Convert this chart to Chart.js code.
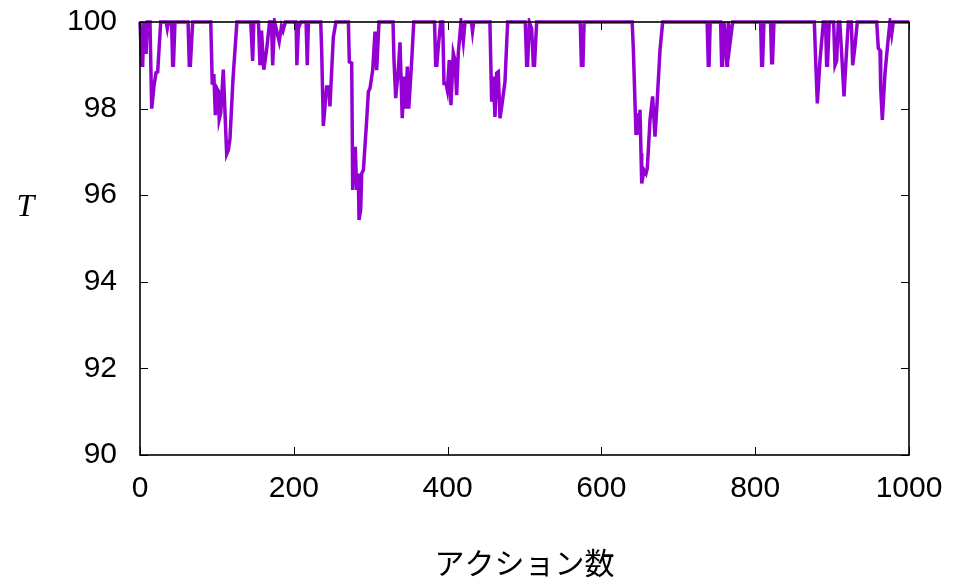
<!DOCTYPE html>
<html>
<head>
<meta charset="utf-8">
<script src="https://cdn.jsdelivr.net/npm/chart.js@4"></script>
<style>
  html, body { margin: 0; padding: 0; background: #fff; }
  #chart { display: block; }
</style>
</head>
<body>
<canvas id="chart" width="956" height="579"></canvas>
<script>
// ======================================
// Data
// ======================================

const xTicks = [0, 200, 400, 600, 800, 1000];
const yTicks = [90, 92, 94, 96, 98, 100];

const actionCounts = [
  0, 2.2, 3.5, 5, 6.5, 8, 9.5, 13, 15.2, 18.2, 20.8, 23, 26.9,
  34, 35.5, 37, 41, 42.5, 43.5, 45.5, 62.5, 64.1, 65.5, 68.5,
  92, 94, 96, 98, 100.5, 102, 103, 105, 108.3, 112.7, 115, 117, 121, 126,
  144, 146.5, 148, 154, 156, 158, 161, 164.6, 168.5, 171, 172.5, 175, 181, 184, 186, 189,
  203, 204, 206, 209, 216, 217.5, 219,
  235, 236.3, 238.4, 240.6, 242.7, 245.7, 247, 251.4, 254.8,
  271, 272.2, 275.3, 276.6, 278.5, 280, 281.8, 283.9, 284.8, 287, 288.3, 290.5,
  294.8, 297, 299.1, 302.6, 305.6, 307.8, 310.8,
  329, 330.3, 332.5, 335.9, 338.1, 341, 343.6, 345.9, 347.6, 349.5, 353.3, 356,
  383, 384.5, 386, 387.9, 391, 393.6, 395.3, 397.9, 399.6, 402.2, 404.4, 407.4,
  409.6, 411.8, 413.9, 417.4, 420.4, 422.6, 431, 432.4, 434,
  455, 457.3, 459.4, 461.6, 463.8, 465.9, 468.1, 470.3, 474.6, 478.1,
  501, 502.8, 504, 506.3, 509.3, 511.5, 513, 515.8,
  572.5, 574, 576, 577.5,
  640, 641.5, 645, 647.2, 648.5, 650.2, 651.5, 652.4, 655.4, 658, 659.7,
  663.2, 666.6, 669.7, 671.9, 676.2, 679.7,
  737.5, 739, 740, 741.5,
  755, 756.4, 757.5, 759.4, 761.6, 763.2, 764, 765, 767.2, 770.7,
  807, 808.4, 809.5, 811.4, 820, 821.4, 822.5, 824.4,
  876.9, 878.6, 880.8, 884.3, 888.6, 891.5, 892.9, 894, 896.3, 902, 903.8, 905.9, 908.1,
  910, 912.4, 915.5, 918.1, 921.1, 925, 926.8, 929.8, 932.8,
  958, 960.1, 962.3, 963.2, 965.3, 968.8, 973.2, 975.3, 977.5, 979.6, 1000,
];

const tValues = [
  100, 99.0, 99.0, 100, 99.3, 99.3, 100, 100, 98.0, 98.52, 98.83, 98.85, 100,
  100, 99.85, 100, 100, 99.0, 99.0, 100, 100, 99.0, 99.0, 100,
  100, 98.55, 98.8, 97.85, 98.45, 98.4, 97.75, 97.9, 98.9, 96.95, 97.05, 97.3, 98.7, 100,
  100, 99.1, 100, 100, 99.0, 99.8, 98.9, 99.35, 100, 100, 99.0, 100, 99.55, 99.9, 99.8, 100,
  100, 99.0, 99.85, 100, 100, 99.0, 100,
  100, 99.3, 97.6, 98.05, 98.5, 98.5, 98.05, 99.65, 100,
  100, 99.08, 99.05, 96.12, 97.08, 97.08, 96.12, 96.5, 95.43, 95.66, 96.5, 96.58,
  97.74, 98.39, 98.47, 98.89, 99.78, 98.89, 100,
  100, 99.12, 98.24, 98.89, 99.53, 97.78, 98.74, 98.0, 98.97, 98.0, 99.1, 100,
  100, 99.0, 99.0, 99.43, 100, 100, 98.58, 98.58, 98.43, 99.12, 98.08, 99.28,
  99.12, 98.31, 99.28, 100, 99.55, 100, 100, 99.78, 100,
  100, 98.16, 98.74, 97.81, 98.82, 98.85, 97.78, 98.04, 98.62, 100,
  100, 99.0, 99.0, 100, 99.85, 99.0, 99.0, 100,
  100, 99.0, 99.0, 100,
  100, 99.39, 97.39, 97.89, 97.4, 97.97, 96.97, 96.27, 96.58, 96.5, 96.62,
  97.74, 98.28, 97.35, 97.97, 99.35, 100,
  100, 99.0, 99.0, 100,
  100, 99.0, 99.0, 100, 99.5, 99.0, 99.0, 100, 99.5, 100,
  100, 99.0, 99.0, 100, 100, 99.06, 99.06, 100,
  100, 99.12, 98.12, 99.12, 100, 100, 99.0, 99.0, 100, 100, 99.0, 99.1, 100,
  100, 99.28, 98.28, 99.12, 100, 100, 99.0, 99.45, 100,
  100, 99.39, 99.35, 98.47, 97.74, 98.82, 99.66, 100, 99.72, 100, 100,
];

// ======================================
// Frame, inward ticks and the T label
// ======================================

const frameTicksPlugin = {
  id: "frameTicks",
  afterDatasetsDraw(chart) {
    const { ctx, chartArea } = chart;
    const { left, right, top, bottom } = chartArea;
    const xScale = chart.scales.x;
    const yScale = chart.scales.y;
    const len = 8;

    ctx.save();
    ctx.strokeStyle = "#000";
    ctx.lineWidth = 1;
    ctx.beginPath();
    xTicks.forEach((v) => {
      const px = Math.round(xScale.getPixelForValue(v)) + 0.5;
      ctx.moveTo(px, bottom);
      ctx.lineTo(px, bottom - len);
      ctx.moveTo(px, top);
      ctx.lineTo(px, top + len);
    });
    yTicks.forEach((v) => {
      const py = Math.round(yScale.getPixelForValue(v)) + 0.5;
      ctx.moveTo(left, py);
      ctx.lineTo(left + len, py);
      ctx.moveTo(right, py);
      ctx.lineTo(right - len, py);
    });
    ctx.stroke();

    ctx.lineWidth = 1.6;
    ctx.strokeRect(left, top, right - left, bottom - top);
    ctx.restore();
  },
  afterDraw(chart) {
    const { ctx } = chart;
    ctx.save();
    ctx.fillStyle = "#000";
    ctx.font = "italic 32px 'Liberation Serif', serif";
    ctx.textAlign = "center";
    ctx.textBaseline = "alphabetic";
    ctx.fillText("T", 25.5, 216);
    ctx.restore();
  },
};

// ======================================
// Chart
// ======================================

const tickFont = { family: "'Liberation Sans', Arial, sans-serif", size: 30 };

new Chart(document.getElementById("chart"), {
  type: "line",
  data: {
    datasets: [
      {
        data: actionCounts.map((x, i) => ({ x, y: tValues[i] })),
        borderColor: "#9400d3",
        borderWidth: 3.5,
        pointRadius: 0,
        tension: 0,
        clip: 4,
      },
    ],
  },
  options: {
    responsive: false,
    animation: false,
    devicePixelRatio: 1,
    layout: { padding: { top: 22, right: 47, left: 0, bottom: 0 } },
    plugins: { legend: { display: false }, tooltip: { enabled: false } },
    scales: {
      x: {
        type: "linear",
        min: 0,
        max: 1000,
        afterBuildTicks(scale) {
          scale.ticks = xTicks.map((value) => ({ value }));
        },
        afterFit(scale) {
          scale.height = 124;
          scale.paddingLeft = 0;
          scale.paddingRight = 0;
        },
        grid: { display: false, drawTicks: false },
        border: { display: false },
        ticks: {
          color: "#000",
          font: tickFont,
          padding: 16,
          maxRotation: 0,
          callback: (value) => String(value),
        },
        title: {
          display: true,
          text: "アクション数",
          color: "#000",
          font: { family: "'Noto Sans CJK JP', sans-serif", size: 30, lineHeight: 1 },
          padding: { top: 0, bottom: 1 },
        },
      },
      y: {
        type: "linear",
        min: 90,
        max: 100,
        afterBuildTicks(scale) {
          scale.ticks = yTicks.map((value) => ({ value }));
        },
        afterFit(scale) {
          scale.width = 140;
          scale.paddingTop = 0;
          scale.paddingBottom = 0;
        },
        grid: { display: false, drawTicks: false },
        border: { display: false },
        ticks: {
          color: "#000",
          font: { ...tickFont, lineHeight: 0.5 },
          padding: 23,
          callback: (value) => String(value),
        },
      },
    },
  },
  plugins: [frameTicksPlugin],
});
</script>
</body>
</html>
